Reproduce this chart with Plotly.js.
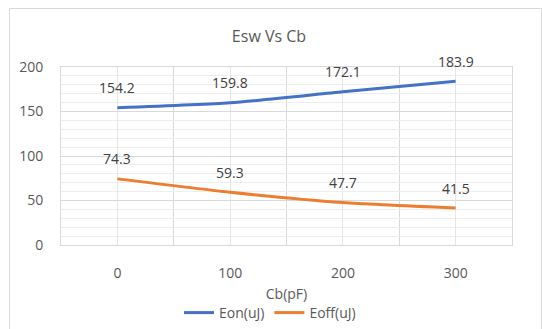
<!DOCTYPE html>
<html><head><meta charset="utf-8">
<script src="https://cdn.plot.ly/plotly-3.0.1.min.js"></script>
<style>html,body{margin:0;padding:0;background:#fff}#c{width:542px;height:329px}</style>
</head><body><div id="c"></div>
<script>
const categories = ['0', '100', '200', '300'];
const eonValues = [154.2, 159.8, 172.1, 183.9];
const eoffValues = [74.3, 59.3, 47.7, 41.5];
const seriesNames = ['Eon(uJ)', 'Eoff(uJ)'];
const chartTitle = 'Esw Vs Cb';
const xTitle = 'Cb(pF)';

const xIdx = categories.map((_, i) => i);
const font = {family: 'Open Sans, Liberation Sans, sans-serif', color: '#595959', size: 14};

const traces = [
  {x: xIdx, y: eonValues, name: seriesNames[0], mode: 'lines', type: 'scatter',
   line: {color: '#4472C4', width: 3, shape: 'spline', smoothing: 0.6}},
  {x: xIdx, y: eoffValues, name: seriesNames[1], mode: 'lines', type: 'scatter',
   line: {color: '#ED7D31', width: 3, shape: 'spline', smoothing: 0.6}}
];

const annotations = [];
[eonValues, eoffValues].forEach(vals => {
  vals.forEach((v, i) => annotations.push({
    x: xIdx[i], y: v, xref: 'x', yref: 'y', text: v.toFixed(1), showarrow: false,
    yshift: 20, font: {family: font.family, size: 14, color: '#404040'}
  }));
});

const L = 61, R = 512, T = 67, B = 245;
const px = v => (v - L) / (R - L);
const py = v => (B - v) / (B - T);

const layout = {
  width: 542, height: 329,
  margin: {l: L, r: 542 - R, t: T, b: 329 - B, autoexpand: false},
  paper_bgcolor: '#fff', plot_bgcolor: '#fff',
  font: font,
  showlegend: true,
  title: {text: chartTitle, x: px(269), xref: 'paper', xanchor: 'center', y: 1 - 36 / 329, yanchor: 'middle',
          font: {family: font.family, size: 16, color: '#595959'}},
  xaxis: {
    range: [-0.5, 3.5], tickvals: xIdx, ticktext: categories, ticks: '',
    showgrid: true, gridcolor: '#e6e6e6', zeroline: false,
    showline: true, mirror: true, linecolor: '#d9d9d9',
    minor: {tick0: -0.5, dtick: 1, showgrid: true, gridcolor: '#d9d9d9', ticks: ''},
    ticklabelstandoff: 15, tickfont: {size: 14, color: '#595959'},
    title: {text: xTitle, standoff: 8, font: {size: 14, color: '#595959'}},
    automargin: false, fixedrange: true
  },
  yaxis: {
    range: [0, 200], dtick: 50, ticks: '',
    showgrid: true, gridcolor: '#d9d9d9', zeroline: false,
    showline: true, mirror: true, linecolor: '#d9d9d9',
    minor: {dtick: 10, showgrid: true, gridcolor: '#eeeeee', ticks: ''},
    ticklabelstandoff: 14, tickfont: {size: 14, color: '#595959'},
    automargin: false, fixedrange: true
  },
  legend: {orientation: 'h', x: px(270), xanchor: 'center', y: py(313), yanchor: 'middle',
           font: {size: 14, color: '#595959'}, itemwidth: 30, tracegroupgap: 0},
  annotations: annotations,
  shapes: [{type: 'rect', xref: 'paper', yref: 'paper', x0: px(9.5), x1: px(541.5), y0: py(340), y1: py(8.5),
            line: {color: '#d9d9d9', width: 1}, layer: 'below'}]
};

Plotly.newPlot('c', traces, layout, {displayModeBar: false, staticPlot: true});
</script></body></html>
